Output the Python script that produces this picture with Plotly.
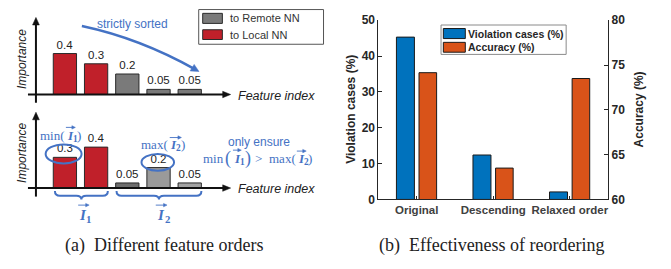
import plotly.graph_objects as go
import math

# ---------------- data ----------------
top_vals = [0.4, 0.3, 0.2, 0.05, 0.05]
top_labels = ["0.4", "0.3", "0.2", "0.05", "0.05"]
bot_vals = [0.3, 0.4, 0.05, 0.2, 0.05]
bot_labels = ["0.3", "0.4", "0.05", "0.2", "0.05"]

categories = ["Original", "Descending", "Relaxed order"]
violation = [45.3, 12.4, 2.1]
accuracy = [74.15, 63.5, 73.5]

W, H = 671, 269
def px(x):
    return x / W
def py(y):
    return 1 - y / H
def P(x, y):
    return f"{px(x):.5f},{py(y):.5f}"

RED = "#C0202A"
GRAY = "#7A7A7A"
BLUE_TXT = "#4472C4"
MBLUE = "#0072BD"
MORANGE = "#D95319"
SANS = "Liberation Sans"
SERIF = "Liberation Serif"

fig = go.Figure()

# ---- panel (a) top ----
fig.add_trace(go.Bar(
    x=list(range(len(top_vals))), y=top_vals, width=0.746,
    marker=dict(color=[RED, RED, GRAY, GRAY, GRAY], line=dict(color="#2a2a2a", width=1)),
    text=top_labels, textposition="outside", cliponaxis=False,
    textfont=dict(family=SANS, size=11.5, color="#222"),
    xaxis="x", yaxis="y", showlegend=False))

# ---- panel (a) bottom ----
fig.add_trace(go.Bar(
    x=list(range(len(bot_vals))), y=bot_vals, width=0.746,
    marker=dict(color=[RED, RED, "#6E6E6E", "#9A9A9A", "#A3A3A3"], line=dict(color="#2a2a2a", width=1)),
    text=bot_labels, textposition="outside", cliponaxis=False,
    textfont=dict(family=SANS, size=11.5, color="#222"),
    xaxis="x2", yaxis="y2", showlegend=False))

# ---- panel (b) ----
xi = list(range(len(categories)))
fig.add_trace(go.Bar(
    x=xi, y=violation, width=0.235, offset=-0.265, name="Violation cases (%)",
    marker=dict(color=MBLUE, line=dict(color="#1a1a1a", width=1)),
    xaxis="x3", yaxis="y3", showlegend=False))
fig.add_trace(go.Bar(
    x=xi, y=accuracy, width=0.23, offset=0.03, name="Accuracy (%)",
    marker=dict(color=MORANGE, line=dict(color="#1a1a1a", width=1)),
    xaxis="x3", yaxis="y4", showlegend=False))

pitch = 31.25
c0 = 65
def xrange_for(l, r):
    return [(l - c0) / pitch, (r - c0) / pitch]

scale = 108.0
hidden = dict(visible=False, showgrid=False, zeroline=False)
tickfont = dict(family=SANS, size=12, color="#262626", weight="bold")

fig.update_layout(
    width=W, height=H, margin=dict(l=0, r=0, t=0, b=0),
    paper_bgcolor="white", plot_bgcolor="rgba(0,0,0,0)",
    barmode="overlay",
    xaxis=dict(domain=[px(36), px(230)], range=xrange_for(36, 230), anchor="y", **hidden),
    yaxis=dict(domain=[py(92.3), py(12)], range=[0, (92.3 - 12) / scale], anchor="x", **hidden),
    xaxis2=dict(domain=[px(36), px(230)], range=xrange_for(36, 230), anchor="y2", **hidden),
    yaxis2=dict(domain=[py(191), py(112)], range=[0, (191 - 112) / scale], anchor="x2", **hidden),
    xaxis3=dict(domain=[px(379), px(609)], range=[-0.5, 2.5], anchor="y3",
                tickvals=xi, ticktext=categories, ticks="inside", ticklen=3, tickcolor="#262626",
                showline=True, linecolor="#262626", linewidth=1, showgrid=False, zeroline=False,
                tickfont=dict(family=SANS, size=11.5, color="#404040", weight="bold")),
    yaxis3=dict(domain=[py(203), py(14)], range=[0, 50], dtick=10, anchor="x3",
                ticks="inside", ticklen=4, tickcolor="#262626", showline=True, linecolor="#262626",
                linewidth=1, showgrid=False, zeroline=False, tickfont=tickfont),
    yaxis4=dict(overlaying="y3", side="right", range=[60, 80], dtick=5, anchor="x3",
                ticks="inside", ticklen=4, tickcolor="#262626", showline=True, linecolor="#262626",
                linewidth=1, showgrid=False, zeroline=False, tickfont=tickfont),
)

ann = []
shapes = []

def line(x0, y0, x1, y1, color="#111", width=2):
    shapes.append(dict(type="line", xref="paper", yref="paper", x0=px(x0), y0=py(y0), x1=px(x1), y1=py(y1),
                       line=dict(color=color, width=width)))

def head(tx, ty, dx, dy, length, half, color="#111"):
    n = math.hypot(dx, dy); dx /= n; dy /= n
    bx, by = tx - dx * length, ty - dy * length
    p1 = (bx - dy * half, by + dx * half)
    p2 = (bx + dy * half, by - dx * half)
    shapes.append(dict(type="path", xref="paper", yref="paper",
                       path=f"M{P(tx, ty)} L{P(*p1)} L{P(*p2)} Z",
                       fillcolor=color, line=dict(color=color, width=0.5)))

def text(x, y, s, size=12, family=SANS, color="#222", angle=0, xanchor="center", weight="normal", style="normal"):
    ann.append(dict(x=px(x), y=py(y), xref="paper", yref="paper", text=s, showarrow=False,
                    textangle=angle, xanchor=xanchor, yanchor="middle", borderpad=0,
                    font=dict(family=family, size=size, color=color, weight=weight, style=style)))

# axes arrows panel (a)
for base, top, bottom in [(92.3, 11, 101), (191, 111, 200)]:
    line(28, base, 224, base)
    head(231, base, 1, 0, 8, 3.4)
    line(36, bottom, 36, top + 6)
    head(36, top, 0, -1, 8, 3.4)

text(237, 93.5, "Feature index", size=12.5, style="italic", xanchor="left")
text(237, 191.5, "Feature index", size=12.5, style="italic", xanchor="left")
text(22, 55, "Importance", size=12, style="italic", angle=-90)
text(22, 154, "Importance", size=12, style="italic", angle=-90)

# legend (a)
shapes.append(dict(type="rect", xref="paper", yref="paper", x0=px(199), x1=px(324), y0=py(39.3), y1=py(2.7),
                   line=dict(color="#555", width=1), fillcolor="white"))
shapes.append(dict(type="rect", xref="paper", yref="paper", x0=px(203), x1=px(222.7), y0=py(17.3), y1=py(6.7),
                   line=dict(color="#2a2a2a", width=1), fillcolor=GRAY))
shapes.append(dict(type="rect", xref="paper", yref="paper", x0=px(203), x1=px(222.7), y0=py(34.3), y1=py(24),
                   line=dict(color="#2a2a2a", width=1), fillcolor=RED))
text(229, 12, "to Remote NN", size=11, xanchor="left", color="#333")
text(229, 29.2, "to Local NN", size=11, xanchor="left", color="#333")

# strictly sorted curve
text(132.5, 17.5, "strictly sorted", size=12, color=BLUE_TXT)
sx, sy, cx, cy, ex, ey = 82, 20, 140, 33, 195, 65.5
shapes.append(dict(type="path", xref="paper", yref="paper",
                   path=f"M{P(sx, sy)} Q{P(cx, cy)} {P(ex, ey)}",
                   line=dict(color=BLUE_TXT, width=2.5)))
dx, dy = ex - cx, ey - cy
n = math.hypot(dx, dy)
head(ex + dx / n * 5, ey + dy / n * 5, dx, dy, 8, 4, color=BLUE_TXT)

# ellipses
shapes.append(dict(type="circle", xref="paper", yref="paper", x0=px(45.7), x1=px(81.7), y0=py(165), y1=py(145),
                   line=dict(color=BLUE_TXT, width=2)))
shapes.append(dict(type="circle", xref="paper", yref="paper", x0=px(141.7), x1=px(174.3), y0=py(172.7), y1=py(155),
                   line=dict(color=BLUE_TXT, width=2)))

def ivec(xl, yc, size, digit, ay, ax0, ax1, close=None):
    """bold italic I with subscript digit and an arrow above"""
    text(xl, yc, "<b><i>I</i></b>", size=size, family=SERIF, color=BLUE_TXT, xanchor="left")
    text(xl + 0.5 * size, yc + 0.28 * size, digit, size=0.72 * size, family=SERIF, color=BLUE_TXT,
         xanchor="left", weight="bold")
    line(ax0, ay, ax1 - 2, ay, color=BLUE_TXT, width=0.9)
    head(ax1, ay, 1, 0, 3.5, 1.8, color=BLUE_TXT)
    if close is not None:
        text(close[0], yc, close[1], size=close[2], family=SERIF, color=BLUE_TXT, xanchor="left")

# min(I1) above first ellipse
text(66, 135.3, "min(", size=13, family=SERIF, color=BLUE_TXT, xanchor="right")
ivec(66, 135.3, 13, "1", 127, 66, 75.5, close=(76.3, ")", 13))
# max(I2) above second ellipse
text(169, 144.7, "max(", size=13, family=SERIF, color=BLUE_TXT, xanchor="right")
ivec(169, 144.7, 13, "2", 137.7, 170, 181.7, close=(180, ")", 13))

text(259, 142.3, "only ensure", size=12, color=BLUE_TXT)
# min(I1) > max(I2)
text(225.5, 160, "min", size=13, family=SERIF, color=BLUE_TXT, xanchor="right")
text(232.5, 159.5, "(", size=18, family=SERIF, color=BLUE_TXT, xanchor="right")
ivec(233, 160, 13, "1", 151, 233.3, 241.7, close=(244.8, ")", 18))
text(259, 160, "&gt;", size=13, family=SERIF, color=BLUE_TXT)
text(297, 160, "max(", size=13, family=SERIF, color=BLUE_TXT, xanchor="right")
ivec(297, 160, 13, "2", 152, 297.3, 306.7, close=(307.8, ")", 13))

# braces
def brace(x0, x1, ytip=194, ybody=199, ymid=203):
    m = (x0 + x1) / 2
    return (f"M{P(x0, ytip)} Q{P(x0, ybody)} {P(x0 + 5, ybody)} L{P(m - 5, ybody)} "
            f"Q{P(m, ybody)} {P(m, ymid)} Q{P(m, ybody)} {P(m + 5, ybody)} "
            f"L{P(x1 - 5, ybody)} Q{P(x1, ybody)} {P(x1, ytip)}")
for a, b in [(55, 108), (116.7, 201.7)]:
    shapes.append(dict(type="path", xref="paper", yref="paper", path=brace(a, b),
                       line=dict(color=BLUE_TXT, width=2)))
ivec(78, 219.5, 15, "1", 209, 78.3, 89.3)
ivec(156.7, 219.5, 15, "2", 209, 156, 167.3)

# legend (b)
shapes.append(dict(type="rect", xref="paper", yref="paper", x0=px(441.7), x1=px(567), y0=py(50), y1=py(19),
                   line=dict(color="#8a8a8a", width=1), fillcolor="white"))
shapes.append(dict(type="rect", xref="paper", yref="paper", x0=px(444), x1=px(466), y0=py(33.3), y1=py(22.7),
                   line=dict(color="#1a1a1a", width=1), fillcolor=MBLUE))
shapes.append(dict(type="rect", xref="paper", yref="paper", x0=px(444), x1=px(466), y0=py(47.7), y1=py(37.3),
                   line=dict(color="#1a1a1a", width=1), fillcolor=MORANGE))
text(467.5, 28.3, "Violation cases (%)", size=10.5, weight="bold", xanchor="left", color="#262626")
text(467.5, 42.7, "Accuracy (%)", size=10.5, weight="bold", xanchor="left", color="#262626")

# axis titles (b)
text(352, 108, "Violation cases (%)", size=12, weight="bold", angle=-90, color="#262626")
text(640, 108, "Accuracy (%)", size=12, weight="bold", angle=-90, color="#262626")

# captions
text(165, 251.5, "(a)\u00a0\u00a0Different feature orders", size=18, family=SERIF, color="#222")
text(492.5, 251.5, "(b)\u00a0\u00a0Effectiveness of reordering", size=18, family=SERIF, color="#222")

fig.update_layout(annotations=ann, shapes=shapes)
fig.write_html("out.html", config={"displayModeBar": False},
               post_script="document.body.style.margin='0px';")
